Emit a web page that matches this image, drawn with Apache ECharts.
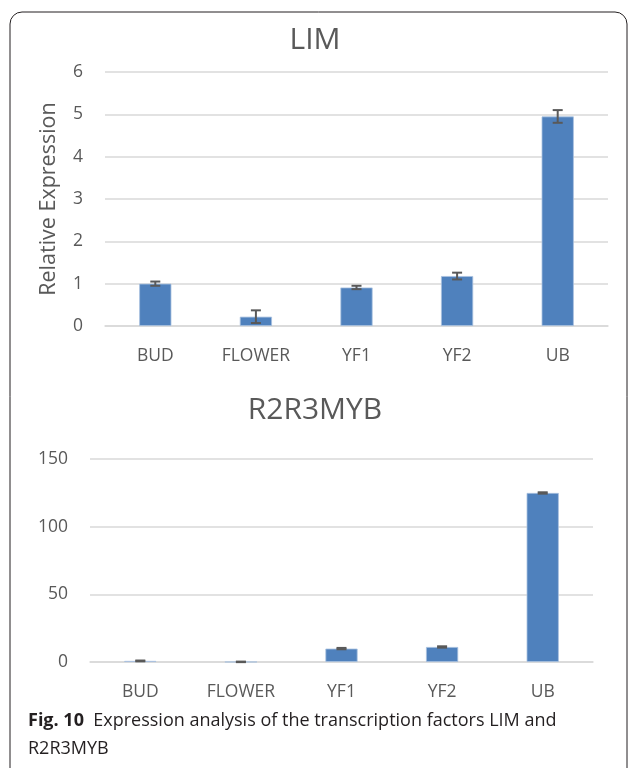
<!DOCTYPE html>
<html><head><meta charset="utf-8">
<script src="https://cdn.jsdelivr.net/npm/echarts@6/dist/echarts.min.js"></script>
<style>html,body{margin:0;padding:0;background:#fff}#c{width:630px;height:768px}</style>
</head><body><div id="c"></div>
<script>
const categories = ['BUD', 'FLOWER', 'YF1', 'YF2', 'UB'];
const limValues = [1.0, 0.22, 0.91, 1.18, 4.95];
const limErrors = [0.05, 0.15, 0.04, 0.08, 0.15];
const mybValues = [0.8, 0.1, 9.9, 11.1, 124.9];
const mybErrors = [0.3, 0.2, 0.5, 0.5, 0.5];
const limTicks = {min: 0, max: 6, interval: 1};
const mybTicks = {min: 0, max: 150, interval: 50};

const FONT = 'Open Sans';
const TXT = '#595959';
const GRID = '#d9d9d9';
const BAR = '#4F81BD';

function errSeries(idx, vals, errs) {
  return {
    type: 'custom', xAxisIndex: idx, yAxisIndex: idx, z: 5,
    data: vals.map((v, i) => [i, v - errs[i], v + errs[i]]),
    renderItem: function (params, api) {
      const lo = api.coord([api.value(0), api.value(1)]);
      const hi = api.coord([api.value(0), api.value(2)]);
      const w = 5;
      const st = {stroke: '#595959', lineWidth: 2};
      return {type: 'group', children: [
        {type: 'line', shape: {x1: lo[0], y1: lo[1], x2: hi[0], y2: hi[1]}, style: st},
        {type: 'line', shape: {x1: lo[0] - w, y1: lo[1], x2: lo[0] + w, y2: lo[1]}, style: st},
        {type: 'line', shape: {x1: hi[0] - w, y1: hi[1], x2: hi[0] + w, y2: hi[1]}, style: st}
      ]};
    }
  };
}

function xAx(idx) {
  return {
    type: 'category', gridIndex: idx, data: categories,
    axisLine: {show: true, lineStyle: {color: GRID, width: 1.5}},
    axisTick: {show: false},
    axisLabel: {color: TXT, fontFamily: FONT, fontSize: 17.5, margin: 21}
  };
}
function yAx(idx, t, extra) {
  return Object.assign({
    type: 'value', gridIndex: idx, min: t.min, max: t.max, interval: t.interval,
    axisLine: {show: false}, axisTick: {show: false},
    axisLabel: {color: TXT, fontFamily: FONT, fontSize: 17.5, margin: 22},
    splitLine: {lineStyle: {color: GRID, width: 1.5}}
  }, extra || {});
}

const chart = echarts.init(document.getElementById('c'));
chart.setOption({
  animation: false,
  title: [
    {text: 'LIM', left: 'center', top: 20, textStyle: {color: TXT, fontFamily: FONT, fontSize: 30, fontWeight: 'normal'}},
    {text: 'R2R3MYB', left: 'center', top: 390, textStyle: {color: TXT, fontFamily: FONT, fontSize: 30, fontWeight: 'normal'}}
  ],
  grid: [
    {left: 105, right: 22, top: 72, height: 254},
    {left: 90, right: 37, top: 459, height: 203}
  ],
  xAxis: [xAx(0), xAx(1)],
  yAxis: [
    yAx(0, limTicks, {name: 'Relative Expression', nameLocation: 'middle', nameGap: 45, nameRotate: 90,
      nameTextStyle: {color: TXT, fontFamily: FONT, fontSize: 21.5}}),
    yAx(1, mybTicks)
  ],
  series: [
    {type: 'bar', xAxisIndex: 0, yAxisIndex: 0, data: limValues, barWidth: '32%',
      itemStyle: {color: BAR, borderColor: '#a9c1e0', borderWidth: 0.8}},
    errSeries(0, limValues, limErrors),
    {type: 'bar', xAxisIndex: 1, yAxisIndex: 1, data: mybValues, barWidth: '32%',
      itemStyle: {color: BAR, borderColor: '#a9c1e0', borderWidth: 0.8}},
    errSeries(1, mybValues, mybErrors)
  ],
  graphic: [
    {type: 'rect', shape: {x: 10, y: 12, width: 617, height: 775, r: 12},
      style: {fill: 'none', stroke: '#231f20', lineWidth: 1}, z: 100},
    {type: 'text', left: 28, top: 707, z: 100,
      style: {
        text: '{b|Fig. 10}  Expression analysis of the transcription factors LIM and\nR2R3MYB',
        fill: '#231f20', font: '18px "Open Sans"', lineHeight: 28,
        rich: {b: {fontWeight: 'bold', fontFamily: 'Open Sans', fontSize: 18, fill: '#231f20', lineHeight: 28}}
      }}
  ]
});
</script></body></html>
